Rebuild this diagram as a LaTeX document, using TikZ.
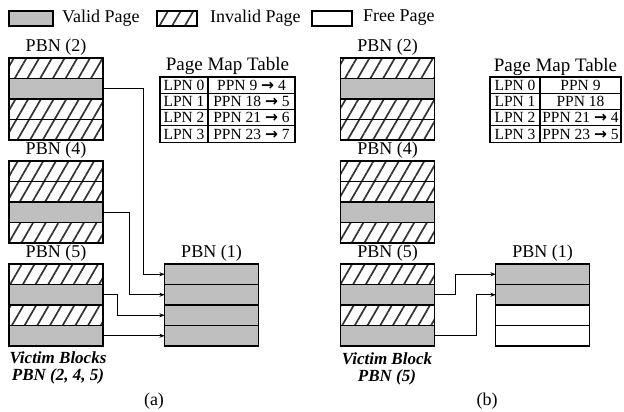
\documentclass[tikz,border=0pt]{standalone}
\usepackage{fontspec}
\setmainfont{Liberation Serif}
\newfontfamily\arrowfont{DejaVu Sans}
\usetikzlibrary{arrows.meta, positioning, patterns.meta}

\definecolor{validgray}{gray}{0.75}
\newcommand{\goesto}{{\arrowfont\bfseries →}}

\tikzset{
  hatch/.style={pattern={Lines[angle=60, distance=11pt, line width=1.7pt]}, pattern color=black!80},
  page/.style={draw, line width=1.4pt, minimum width=94pt, minimum height=20.5pt, inner sep=0pt, outer sep=0pt},
  valid/.style={page, fill=validgray},
  invalid/.style={page, hatch},
  free/.style={page, fill=white},
  legbox/.style={draw, line width=1.3pt, minimum width=44pt, minimum height=15pt, inner sep=0pt},
  txt/.style={font=\fontsize{18}{20}\selectfont, inner sep=0pt},
  victim/.style={font=\fontsize{17}{17}\selectfont\bfseries\itshape, align=center, inner sep=0pt},
  cell/.style={draw, line width=1.1pt, minimum height=16.3pt, inner sep=0pt, outer sep=0pt, font=\fontsize{15.5}{15.5}\selectfont},
  move/.style={-{Stealth[length=5pt, width=4pt]}, line width=0.6pt},
}

\begin{document}
\begin{tikzpicture}[x=1pt, y=-1pt]
    \useasboundingbox (0,0) rectangle (624,412);

    % Legend
    \node[legbox, fill=validgray] (legvalid) at (31,18.5) {};
    \node[txt, anchor=west] (legvalidtxt) at (62,18) {Valid Page};
    \node[legbox, hatch, minimum width=40pt] (leginvalid) at (177,18.5) {};
    \node[txt, anchor=west] (leginvalidtxt) at (210,18) {Invalid Page};
    \node[legbox, minimum width=40pt] (legfree) at (332,18.5) {};
    \node[txt, anchor=west] (legfreetxt) at (363,18) {Free Page};

    % (a): three victim blocks copied into PBN (1)
    \foreach \k [count=\i] in {invalid,valid,invalid,invalid}
        \node[\k] (a2r\i) at (56,{58+20.5*\i-10.25}) {};
    \foreach \k [count=\i] in {invalid,invalid,valid,invalid}
        \node[\k] (a4r\i) at (56,{161+20.5*\i-10.25}) {};
    \foreach \k [count=\i] in {invalid,valid,invalid,valid}
        \node[\k] (a5r\i) at (56,{264+20.5*\i-10.25}) {};
    \foreach \k [count=\i] in {valid,valid,valid,valid}
        \node[\k] (a1r\i) at (211.5,{264+20.5*\i-10.25}) {};
    \node[txt, above=2pt of a2r1] (a2name) {PBN (2)};
    \node[txt, above=2pt of a4r1] (a4name) {PBN (4)};
    \node[txt, above=2pt of a5r1] (a5name) {PBN (5)};
    \node[txt, above=2pt of a1r1] (a1name) {PBN (1)};

    \node[txt, font=\fontsize{19}{20}\selectfont] (atitle) at (227.5,66) {Page Map Table};
    \foreach \l/\r [count=\i] in {0/9 \goesto{} 4, 1/18 \goesto{} 5, 2/21 \goesto{} 6, 3/23 \goesto{} 7} {
        \node[cell, minimum width=48pt] (atl\i) at (184,{77+16.3*\i-8.15}) {LPN \l};
        \node[cell, minimum width=87pt] (atr\i) at (251.5,{77+16.3*\i-8.15}) {PPN \r};
    }

    \draw[move] (a2r2.east) -- ++(40,0) |- (a1r1.west);
    \draw[move] (a4r3.east) -- ++(26,0) |- (a1r2.west);
    \draw[move] (a5r2.east) -- ++(14,0) |- (a1r3.west);
    \draw[move] (a5r4.east) -- (a1r4.west);

    \node[victim] (avictim) at (58,368) {Victim Blocks\\PBN (2, 4, 5)};
    \node[txt] (acap) at (154,401) {(a)};

    % (b): only PBN (5) is copied
    \foreach \k [count=\i] in {invalid,valid,invalid,invalid}
        \node[\k] (b2r\i) at (387.5,{58+20.5*\i-10.25}) {};
    \foreach \k [count=\i] in {invalid,invalid,valid,invalid}
        \node[\k] (b4r\i) at (387.5,{161+20.5*\i-10.25}) {};
    \foreach \k [count=\i] in {invalid,valid,invalid,valid}
        \node[\k] (b5r\i) at (387.5,{264+20.5*\i-10.25}) {};
    \foreach \k [count=\i] in {valid,valid,free,free}
        \node[\k] (b1r\i) at (542.5,{264+20.5*\i-10.25}) {};
    \node[txt, above=2pt of b2r1] (b2name) {PBN (2)};
    \node[txt, above=2pt of b4r1] (b4name) {PBN (4)};
    \node[txt, above=2pt of b5r1] (b5name) {PBN (5)};
    \node[txt, above=2pt of b1r1] (b1name) {PBN (1)};

    \node[txt, font=\fontsize{19}{20}\selectfont] (btitle) at (555.5,67) {Page Map Table};
    \foreach \l/\r [count=\i] in {0/9, 1/18, 2/21 \goesto{} 4, 3/23 \goesto{} 5} {
        \node[cell, minimum width=50pt] (btl\i) at (515,{77+16.3*\i-8.15}) {LPN \l};
        \node[cell, minimum width=81pt] (btr\i) at (580.5,{77+16.3*\i-8.15}) {PPN \r};
    }

    \draw[move] (b5r2.east) -- ++(21,0) |- (b1r1.west);
    \draw[move] (b5r4.east) -- ++(42,0) |- (b1r2.west);

    \node[victim] (bvictim) at (387,369) {Victim Block\\PBN (5)};
    \node[txt] (bcap) at (487,401) {(b)};
\end{tikzpicture}
\end{document}
